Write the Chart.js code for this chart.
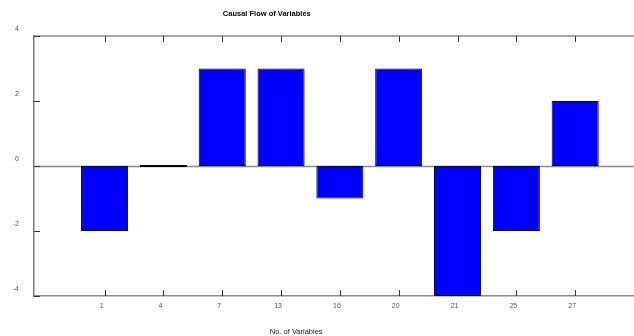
<!DOCTYPE html>
<html>
<head>
<meta charset="utf-8">
<script src="https://cdn.jsdelivr.net/npm/chart.js@4/dist/chart.umd.min.js"></script>
<style>
  html, body { margin: 0; padding: 0; background: #fff; }
  #wrap { width: 634px; height: 336px; position: relative; }
</style>
</head>
<body>
<div id="wrap"><canvas id="chart"></canvas></div>
<script>
const categories = ['1', '4', '7', '13', '16', '20', '21', '25', '27'];
const flowValues = [-2, 0, 3, 3, -1, 3, -4, -2, 2];
const yTicks = [-4, -2, 0, 2, 4];

const titleText = 'Causal Flow of Variables';
const xTitleText = 'No. of Variables';

// frame, inside tick marks, zero line and the two titles
const framePlugin = {
    id: 'frame',
    beforeDatasetsDraw(chart) {
        const { ctx, chartArea: a, scales: { x, y } } = chart;
        ctx.save();
        ctx.strokeStyle = '#8a8a8a';
        ctx.lineWidth = 1.5;
        ctx.beginPath();
        ctx.moveTo(a.left, a.top);
        ctx.lineTo(a.right, a.top);
        const y0 = Math.round(y.getPixelForValue(0)) + 0.5;
        ctx.moveTo(a.left, y0);
        ctx.lineTo(a.right, y0);
        ctx.stroke();

        ctx.strokeStyle = '#333';
        ctx.lineWidth = 1;
        ctx.beginPath();
        categories.forEach((c, i) => {
            const px = Math.round(x.getPixelForValue(i + 1)) + 0.5;
            ctx.moveTo(px, a.bottom);
            ctx.lineTo(px, a.bottom - 6);
            ctx.moveTo(px, a.top);
            ctx.lineTo(px, a.top + 6);
        });
        yTicks.forEach(v => {
            const py = Math.round(y.getPixelForValue(v)) + 0.5;
            ctx.moveTo(a.left, py);
            ctx.lineTo(a.left + 6, py);
        });
        ctx.stroke();
        ctx.restore();
    },
    afterDraw(chart) {
        const { ctx, chartArea: a } = chart;
        ctx.save();
        ctx.fillStyle = '#000';
        ctx.textAlign = 'center';
        ctx.textBaseline = 'middle';
        ctx.font = 'bold 7.5px "Liberation Sans", Arial, sans-serif';
        ctx.fillText(titleText, a.left + a.width * 0.388, 14);
        ctx.fillStyle = '#222';
        ctx.font = '7.5px "Liberation Sans", Arial, sans-serif';
        ctx.fillText(xTitleText, a.left + a.width * 0.437, 332);
        ctx.restore();
    }
};

new Chart(document.getElementById('chart'), {
    type: 'bar',
    data: {
        datasets: [{
            label: 'Causal Flow',
            data: flowValues.map((v, i) => ({ x: i + 1, y: v })),
            backgroundColor: '#0000ff',
            borderColor: '#000',
            borderWidth: 1,
            borderSkipped: false,
            minBarLength: 2,
            categoryPercentage: 1,
            barPercentage: 0.8
        }]
    },
    options: {
        responsive: true,
        maintainAspectRatio: false,
        animation: false,
        layout: { padding: { top: 36, right: 0, left: 0, bottom: 0 } },
        plugins: {
            legend: { display: false },
            title: { display: false },
            tooltip: { enabled: false }
        },
        scales: {
            x: {
                type: 'linear',
                offset: false,
                min: -0.2,
                max: 10,
                grid: { display: false, drawTicks: false, offset: false },
                border: { display: true, color: '#8a8a8a', width: 1.5 },
                afterBuildTicks: scale => {
                    scale.ticks = categories.map((c, i) => ({ value: i + 1 }));
                },
                afterFit: scale => { scale.height = 40; },
                ticks: {
                    autoSkip: false,
                    maxRotation: 0,
                    padding: 6,
                    labelOffset: -3,
                    color: '#555',
                    font: { size: 7, family: '"Liberation Sans", Arial, sans-serif' },
                    callback: (v, i) => categories[i]
                }
            },
            y: {
                min: -4,
                max: 4,
                grid: { display: false, drawTicks: false },
                border: { display: true, color: '#7a7a7a', width: 1.5 },
                afterBuildTicks: scale => {
                    scale.ticks = yTicks.map(v => ({ value: v }));
                },
                afterFit: scale => { scale.width = 34; },
                ticks: {
                    padding: 15,
                    labelOffset: -7,
                    color: '#555',
                    font: { size: 7, family: '"Liberation Sans", Arial, sans-serif' }
                }
            }
        }
    },
    plugins: [framePlugin]
});
</script>
</body>
</html>
